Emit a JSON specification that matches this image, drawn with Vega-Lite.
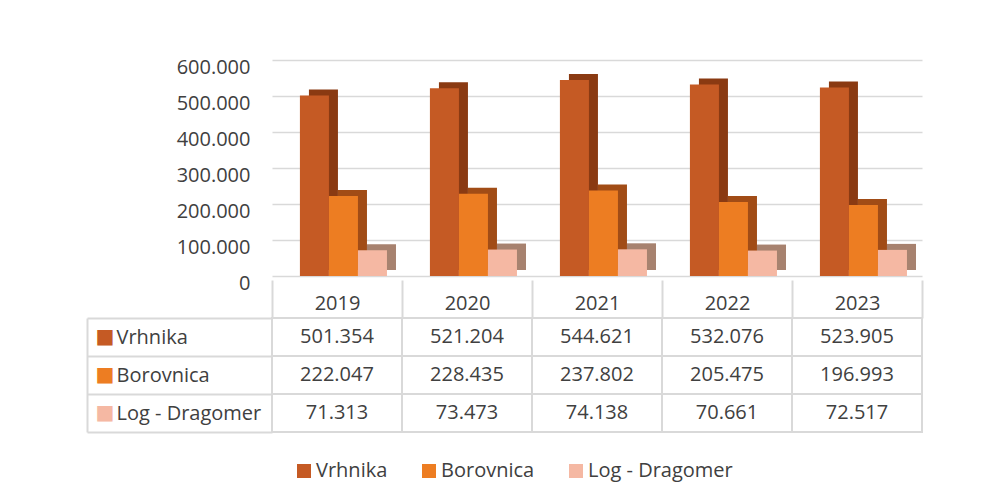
{
  "$schema": "https://vega.github.io/schema/vega-lite/v6.json",
  "padding": {"left": 86, "top": 57, "right": 5, "bottom": 5},
  "background": "white",
  "spacing": 42,
  "bounds": "flush",
  "config": {
    "locale": {"number": {"decimal": ",", "thousands": ".", "grouping": [3], "currency": ["", " €"]}},
    "font": "Open Sans",
    "view": {"stroke": null},
    "axis": {"labelFont": "Open Sans", "labelFontSize": 20, "labelColor": "#404040", "title": null}
  },
  "datasets": {
    "d": [
      {"year": "2019", "series": "Vrhnika", "value": 501354},
      {"year": "2019", "series": "Borovnica", "value": 222047},
      {"year": "2019", "series": "Log - Dragomer", "value": 71313},
      {"year": "2020", "series": "Vrhnika", "value": 521204},
      {"year": "2020", "series": "Borovnica", "value": 228435},
      {"year": "2020", "series": "Log - Dragomer", "value": 73473},
      {"year": "2021", "series": "Vrhnika", "value": 544621},
      {"year": "2021", "series": "Borovnica", "value": 237802},
      {"year": "2021", "series": "Log - Dragomer", "value": 74138},
      {"year": "2022", "series": "Vrhnika", "value": 532076},
      {"year": "2022", "series": "Borovnica", "value": 205475},
      {"year": "2022", "series": "Log - Dragomer", "value": 70661},
      {"year": "2023", "series": "Vrhnika", "value": 523905},
      {"year": "2023", "series": "Borovnica", "value": 196993},
      {"year": "2023", "series": "Log - Dragomer", "value": 72517}
    ]
  },
  "vconcat": [
    {
      "width": 650,
      "height": 216,
      "data": {"name": "d"},
      "encoding": {
        "x": {"field": "year", "type": "ordinal", "scale": {"paddingInner": 0, "paddingOuter": 0},
          "axis": {"tickBand": "extent", "offset": 4, "tickSize": 38, "tickColor": "#D9D9D9", "tickWidth": 2, "domain": false, "grid": false, "labelAngle": 0, "labelPadding": -25, "title": null}},
        "y": {"field": "value", "type": "quantitative", "scale": {"domain": [0, 600000], "nice": false},
          "axis": {"values": [0, 100000, 200000, 300000, 400000, 500000, 600000], "format": ",.0f", "domain": false, "ticks": false, "labelPadding": 22, "gridColor": "#D9D9D9", "gridWidth": 1.5, "labelOffset": 7, "title": null}}
      },
      "layer": [
        {
          "mark": {"type": "bar", "yOffset": -6},
          "encoding": {
            "xOffset": {"field": "series", "type": "nominal", "sort": ["Vrhnika", "Borovnica", "Log - Dragomer"], "scale": {"paddingOuter": 0.74, "paddingInner": 0, "align": 0.86}},
            "color": {"field": "series", "type": "nominal", "scale": {"domain": ["Vrhnika", "Borovnica", "Log - Dragomer"], "range": ["#8A3A12", "#A14C16", "#A7826F"]}, "legend": null}
          }
        },
        {
          "mark": {"type": "bar"},
          "encoding": {
            "xOffset": {"field": "series", "type": "nominal", "sort": ["Vrhnika", "Borovnica", "Log - Dragomer"], "scale": {"paddingOuter": 0.74, "paddingInner": 0, "align": 0.65}},
            "color": {"field": "series", "type": "nominal", "scale": {"domain": ["Vrhnika", "Borovnica", "Log - Dragomer"], "range": ["#C55A24", "#ED7D22", "#F5B8A3"]}, "legend": null}
          }
        }
      ],
      "resolve": {"scale": {"xOffset": "independent", "color": "independent"}}
    },
    {
      "width": 650,
      "height": 114,
      "data": {"name": "d"},
      "encoding": {
        "x": {"field": "year", "type": "ordinal", "scale": {"paddingInner": 0, "paddingOuter": 0}, "axis": null}
      },
      "layer": [
        {
          "mark": {"type": "rect", "fill": "white", "stroke": "#D9D9D9", "strokeWidth": 2},
          "encoding": {
            "y": {"field": "series", "type": "nominal", "sort": ["Vrhnika", "Borovnica", "Log - Dragomer"], "scale": {"paddingInner": 0, "paddingOuter": 0},
              "axis": {"orient": "left", "tickBand": "extent", "tickSize": 185, "tickColor": "#D9D9D9", "tickWidth": 2, "domain": false, "labelAlign": "left", "labelPadding": -29, "title": null}}
          }
        },
        {
          "mark": {"type": "square", "size": 0},
          "encoding": {
            "y": {"field": "series", "type": "nominal", "sort": ["Vrhnika", "Borovnica", "Log - Dragomer"], "axis": null},
            "color": {"field": "series", "type": "nominal", "scale": {"domain": ["Vrhnika", "Borovnica", "Log - Dragomer"], "range": ["#C55A24", "#ED7D22", "#F5B8A3"]},
              "legend": {"orient": "bottom", "direction": "horizontal", "title": " ", "titleOrient": "left", "titleFontSize": 10, "titlePadding": 22, "symbolType": "square", "symbolSize": 196, "symbolStrokeWidth": 0, "symbolOpacity": 1, "labelFontSize": 20, "labelFont": "Open Sans", "labelColor": "#404040", "labelOffset": 2, "columnPadding": 31, "offset": 28}}
          }
        },
        {
          "mark": {"type": "text", "fontSize": 20, "color": "#404040", "font": "Open Sans"},
          "encoding": {
            "text": {"field": "value", "type": "quantitative", "format": ",.0f"},
            "y": {"field": "series", "type": "nominal", "sort": ["Vrhnika", "Borovnica", "Log - Dragomer"],
              "axis": {"orient": "left", "offset": 185, "ticks": false, "tickSize": 0, "domain": true, "domainColor": "#D9D9D9", "domainWidth": 2, "labelExpr": "'■'", "labelColor": {"expr": "datum.value === 'Vrhnika' ? '#C55A24' : datum.value === 'Borovnica' ? '#ED7D22' : '#F5B8A3'"}, "labelAlign": "left", "labelPadding": -8, "labelFont": "DejaVu Sans", "labelFontSize": 20, "title": null}}
          }
        }
      ],
      "resolve": {"axis": {"y": "independent"}}
    }
  ]
}
